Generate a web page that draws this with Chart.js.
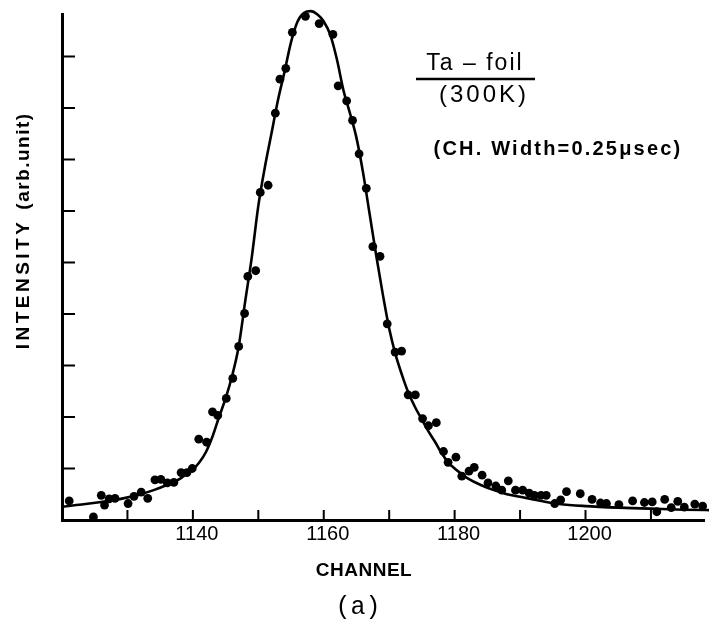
<!DOCTYPE html>
<html>
<head>
<meta charset="utf-8">
<script src="https://cdn.jsdelivr.net/npm/chart.js@4.4.1/dist/chart.umd.min.js"></script>
<style>
  html, body { margin: 0; padding: 0; background: #fff; }
  #wrap { width: 709px; height: 624px; }
</style>
</head>
<body>
<div id="wrap"><canvas id="myChart"></canvas></div>
<script>
// measured points (channel, intensity in tick units)
const channels = [
  1121.1, 1124.8, 1126.0, 1126.5, 1127.2, 1128.1, 1130.1, 1131.0, 1132.1, 1133.1,
  1134.2, 1135.1, 1136.1, 1137.1, 1138.2, 1139.1, 1139.9, 1140.9, 1142.1, 1143.0,
  1143.8, 1145.1, 1146.1, 1147.0, 1147.9, 1148.4, 1149.6, 1150.3, 1151.5, 1152.6,
  1153.3, 1154.2, 1155.2, 1157.2, 1159.3, 1161.4, 1162.2, 1163.5, 1164.4, 1165.4,
  1166.5, 1167.5, 1168.6, 1169.7, 1170.9, 1171.9, 1172.9, 1174.0, 1175.1, 1176.0,
  1177.2, 1178.3, 1179.0, 1180.2, 1181.1, 1182.2, 1183.0, 1184.2, 1185.1, 1186.3,
  1187.2, 1188.2, 1189.3, 1190.4, 1191.4, 1192.2, 1193.2, 1194.0, 1195.3, 1196.2,
  1197.1, 1199.2, 1201.0, 1202.3, 1203.2, 1205.1, 1207.2, 1209.0, 1210.2, 1210.9,
  1212.1, 1213.1, 1214.1, 1215.1, 1216.7, 1217.9
];
const counts = [
  0.37, 0.06, 0.48, 0.29, 0.41, 0.42, 0.32, 0.46, 0.54, 0.42,
  0.78, 0.79, 0.72, 0.73, 0.92, 0.92, 1.00, 1.57, 1.51, 2.10,
  2.03, 2.36, 2.75, 3.37, 4.01, 4.73, 4.84, 6.36, 6.50, 7.90,
  8.56, 8.77, 9.47, 9.78, 9.64, 9.43, 8.43, 8.14, 7.76, 7.11,
  6.44, 5.31, 5.12, 3.81, 3.26, 3.28, 2.43, 2.43, 1.97, 1.83,
  1.89, 1.33, 1.12, 1.22, 0.85, 0.95, 1.02, 0.87, 0.72, 0.66,
  0.58, 0.76, 0.58, 0.58, 0.52, 0.48, 0.48, 0.48, 0.32, 0.39,
  0.55, 0.51, 0.40, 0.33, 0.32, 0.30, 0.37, 0.34, 0.35, 0.16,
  0.40, 0.24, 0.36, 0.25, 0.31, 0.27
];

// fitted curve
const fitChannels = [
  1120, 1123, 1126, 1129, 1132, 1134, 1136, 1138, 1139, 1140,
  1141, 1142, 1143, 1144, 1145, 1146, 1147, 1148, 1149, 1150,
  1151, 1152, 1153, 1154, 1155, 1156, 1157, 1158, 1159, 1160,
  1161, 1162, 1163, 1164, 1165, 1166, 1167, 1168, 1169, 1170,
  1171, 1172, 1173, 1174, 1175, 1176, 1177, 1178, 1179, 1180,
  1181, 1182, 1184, 1186, 1188, 1190, 1192, 1194, 1196, 1200,
  1205, 1210, 1215, 1220
];
const fitValues = [
  0.26, 0.30, 0.35, 0.41, 0.50, 0.58, 0.68, 0.80, 0.89, 0.98,
  1.12, 1.32, 1.62, 2.00, 2.36, 2.80, 3.37, 4.25, 5.10, 6.10,
  6.85, 7.50, 8.15, 8.70, 9.28, 9.68, 9.85, 9.88, 9.82, 9.68,
  9.42, 8.95, 8.35, 7.90, 7.42, 6.75, 5.95, 5.15, 4.40, 3.72,
  3.20, 2.80, 2.45, 2.18, 1.95, 1.72, 1.52, 1.30, 1.12, 1.00,
  0.90, 0.81, 0.68, 0.58, 0.50, 0.45, 0.40, 0.35, 0.31, 0.27,
  0.24, 0.22, 0.20, 0.19
];

const xTicks = [1130, 1140, 1150, 1160, 1170, 1180, 1190, 1200, 1210];
const xTickLabels = [1140, 1160, 1180, 1200];
const yTicks = [1, 2, 3, 4, 5, 6, 7, 8, 9];

const ctx = document.getElementById('myChart');

function spaced(c, px) {
  if ('letterSpacing' in c) c.letterSpacing = px + 'px';
}

// inward tick marks and all the free text
const decorPlugin = {
  id: 'decor',
  afterDraw(chart) {
    const c = chart.ctx;
    const xs = chart.scales.x;
    const ys = chart.scales.y;
    c.save();
    c.strokeStyle = '#000';
    c.fillStyle = '#000';
    c.lineWidth = 2;
    xs.ticks.forEach(t => {
      const px = xs.getPixelForValue(t.value);
      c.beginPath();
      c.moveTo(px, xs.top);
      c.lineTo(px, xs.top - 10);
      c.stroke();
    });
    ys.ticks.forEach(t => {
      const py = ys.getPixelForValue(t.value);
      c.beginPath();
      c.moveTo(ys.right, py);
      c.lineTo(ys.right + 13, py);
      c.stroke();
    });

    c.textAlign = 'center';
    c.textBaseline = 'middle';

    // y title
    c.save();
    c.font = 'bold 19px "Liberation Sans", Arial, sans-serif';
    spaced(c, 3.5);
    c.translate(24, 284);
    c.rotate(-Math.PI / 2);
    c.fillText('INTENSITY', 0, 0);
    c.restore();
    c.save();
    c.font = 'bold 19px "Liberation Sans", Arial, sans-serif';
    spaced(c, 1.5);
    c.translate(24, 161);
    c.rotate(-Math.PI / 2);
    c.fillText('(arb.unit)', 0, 0);
    c.restore();

    // x title
    c.font = 'bold 19px "Liberation Sans", Arial, sans-serif';
    spaced(c, 0.5);
    c.fillText('CHANNEL', 364, 571);

    c.font = '25px "Liberation Mono", "DejaVu Sans Mono", monospace';
    spaced(c, 0);
    c.fillText('(a)', 358, 607);

    // annotation
    c.font = '23px "Liberation Sans", Arial, sans-serif';
    spaced(c, 2);
    c.fillText('Ta \u2013 foil', 475, 64);
    c.lineWidth = 2.5;
    c.beginPath();
    c.moveTo(416, 79);
    c.lineTo(535, 79);
    c.stroke();
    c.font = '24px "Liberation Sans", Arial, sans-serif';
    spaced(c, 3);
    c.fillText('(300K)', 484, 95);
    c.font = 'bold 20px "Liberation Sans", Arial, sans-serif';
    spaced(c, 2.2);
    c.fillText('(CH. Width=0.25\u03BCsec)', 558, 149);
    c.restore();
  }
};

new Chart(ctx, {
  data: {
    datasets: [
      {
        type: 'line',
        label: 'fit',
        data: fitChannels.map((x, i) => ({ x: x, y: fitValues[i] })),
        borderColor: '#000',
        borderWidth: 2.6,
        pointRadius: 0,
        cubicInterpolationMode: 'monotone',
        fill: false,
        clip: false
      },
      {
        type: 'scatter',
        label: 'data',
        data: channels.map((x, i) => ({ x: x, y: counts[i] })),
        backgroundColor: '#000',
        borderColor: '#000',
        pointRadius: 4.4,
        pointBorderWidth: 0,
        clip: false
      }
    ]
  },
  options: {
    responsive: true,
    maintainAspectRatio: false,
    animation: false,
    devicePixelRatio: 1,
    layout: { padding: { top: 14, left: 0, right: 0, bottom: 0 } },
    plugins: {
      legend: { display: false },
      tooltip: { enabled: false }
    },
    scales: {
      x: {
        type: 'linear',
        min: 1120,
        max: 1218.2,
        afterBuildTicks: s => { s.ticks = xTicks.map(v => ({ value: v })); },
        afterFit: s => { s.height = 104; },
        grid: { display: false, drawTicks: false },
        border: { display: true, color: '#000', width: 3 },
        ticks: {
          padding: 2,
          labelOffset: 4,
          maxRotation: 0,
          autoSkip: false,
          color: '#000',
          font: { family: '"Liberation Sans", Arial, sans-serif', size: 20 },
          callback: v => xTickLabels.includes(v) ? String(v) : ''
        }
      },
      y: {
        type: 'linear',
        min: 0,
        max: 9.825,
        afterBuildTicks: s => { s.ticks = yTicks.map(v => ({ value: v })); },
        afterFit: s => { s.width = 62; },
        grid: { display: false, drawTicks: false },
        border: { display: true, color: '#000', width: 3 },
        ticks: { display: false }
      }
    }
  },
  plugins: [decorPlugin]
});
</script>
</body>
</html>
